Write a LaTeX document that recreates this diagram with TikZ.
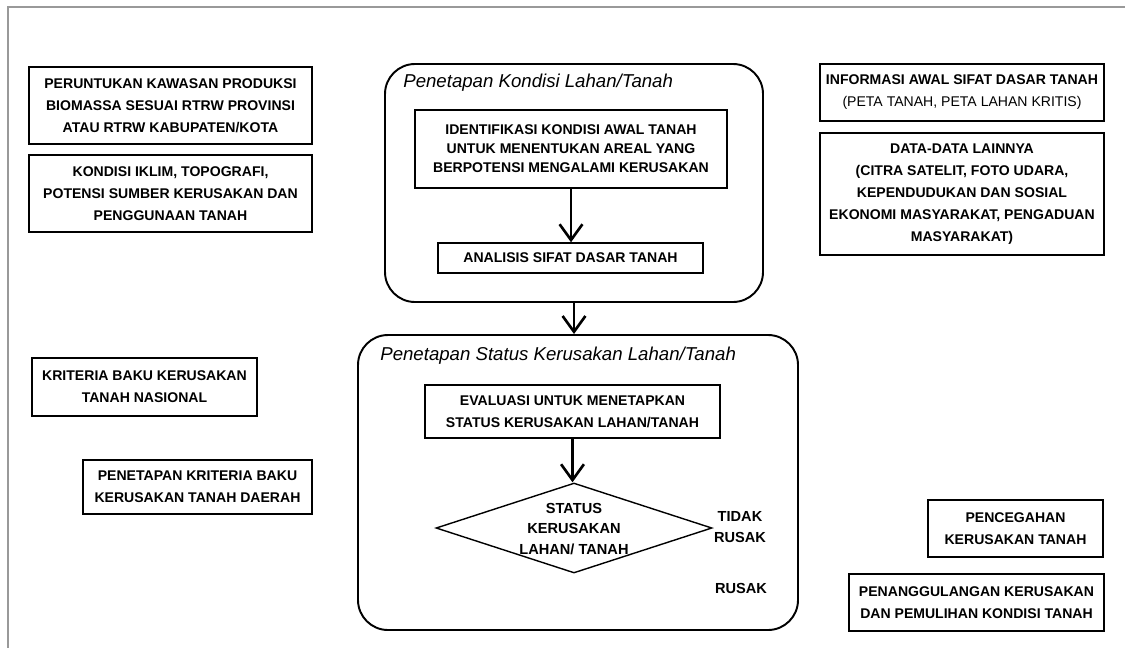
\documentclass[tikz,border=0pt]{standalone}
\usepackage{fontspec}
\setmainfont{Liberation Sans}
\usetikzlibrary{arrows.meta,shapes.geometric}
\newcommand\flowfont{\bfseries\fontsize{8}{12.5}\selectfont}
\newcommand\innerfont{\bfseries\fontsize{8}{10.8}\selectfont}
\newcommand\titlefont{\itshape\fontsize{10.6}{12}\selectfont}
\begin{document}
\begin{tikzpicture}[
        box/.style={draw, line width=0.8pt, inner sep=0pt, align=center, font=\flowfont},
        stage/.style={draw, line width=1.1pt, rounded corners=0.6cm, inner sep=0pt},
        flow/.style={line width=1.3pt, -{Straight Barb[length=9pt,width=13pt,line width=1.5pt]}}
    ]
        \useasboundingbox (0, 0) rectangle (22.5, -12.96);
        \draw[gray!80, line width=1.2pt] (22.5, -0.14) -- (0.16, -0.14) -- (0.16, -12.96);

        \node[box, minimum width=5.66cm, minimum height=1.54cm] (peruntukan) at (3.41, -2.11)
            {PERUNTUKAN KAWASAN PRODUKSI\\BIOMASSA SESUAI RTRW PROVINSI\\ATAU RTRW KABUPATEN/KOTA};
        \node[box, minimum width=5.66cm, minimum height=1.54cm] (iklim) at (3.41, -3.87)
            {KONDISI IKLIM, TOPOGRAFI,\\POTENSI SUMBER KERUSAKAN DAN\\PENGGUNAAN TANAH};
        \node[box, minimum width=4.5cm, minimum height=1.16cm] (nasional) at (2.89, -7.74)
            {KRITERIA BAKU KERUSAKAN\\TANAH NASIONAL};
        \node[box, minimum width=4.58cm, minimum height=1.08cm] (daerah) at (3.95, -9.74)
            {PENETAPAN KRITERIA BAKU\\KERUSAKAN TANAH DAERAH};

        \node[box, minimum width=5.68cm, minimum height=1.14cm] (informasi) at (19.24, -1.85)
            {INFORMASI AWAL SIFAT DASAR TANAH\\\mdseries (PETA TANAH, PETA LAHAN KRITIS)};
        \node[box, minimum width=5.68cm, minimum height=2.44cm] (lainnya) at (19.24, -3.88)
            {DATA-DATA LAINNYA\\(CITRA SATELIT, FOTO UDARA,\\KEPENDUDUKAN DAN SOSIAL\\EKONOMI MASYARAKAT, PENGADUAN\\MASYARAKAT)};
        \node[box, minimum width=3.5cm, minimum height=1.14cm] (pencegahan) at (20.31, -10.57)
            {PENCEGAHAN\\KERUSAKAN TANAH};
        \node[box, minimum width=5.1cm, minimum height=1.14cm] (pemulihan) at (19.53, -12.05)
            {PENANGGULANGAN KERUSAKAN\\DAN PEMULIHAN KONDISI TANAH};

        \node[stage, minimum width=7.56cm, minimum height=4.76cm] (kondisi) at (11.48, -3.66) {};
        \node[anchor=base west, font=\titlefont, inner sep=0pt] (kondisititle) at (8.06, -1.74)
            {Penetapan Kondisi Lahan/Tanah};
        \node[box, font=\innerfont, minimum width=6.24cm, minimum height=1.56cm] (identifikasi) at (11.42, -2.98)
            {IDENTIFIKASI KONDISI AWAL TANAH\\UNTUK MENENTUKAN AREAL YANG\\BERPOTENSI MENGALAMI KERUSAKAN};
        \node[box, minimum width=5.3cm, minimum height=0.6cm] (analisis) at (11.41, -5.16)
            {ANALISIS SIFAT DASAR TANAH};

        \node[stage, minimum width=8.8cm, minimum height=5.9cm] (status) at (11.56, -9.65) {};
        \node[anchor=base west, font=\titlefont, inner sep=0pt] (statustitle) at (7.6, -7.2)
            {Penetapan Status Kerusakan Lahan/Tanah};
        \node[box, minimum width=5.9cm, minimum height=1.06cm] (evaluasi) at (11.45, -8.23)
            {EVALUASI UNTUK MENETAPKAN\\STATUS KERUSAKAN LAHAN/TANAH};
        \node[diamond, draw, line width=0.8pt, inner sep=0pt, minimum width=5.52cm, minimum height=1.8cm] (keputusan) at (11.48, -10.56) {};
        \node[align=center, font=\bfseries\fontsize{8.3}{11.8}\selectfont, inner sep=0pt] (keputusantext) at (11.48, -10.58)
            {STATUS\\KERUSAKAN\\LAHAN/ TANAH};
        \node[align=center, font=\bfseries\fontsize{8.3}{11.8}\selectfont, inner sep=0pt] (tidakrusak) at (14.8, -10.54)
            {TIDAK\\RUSAK};
        \node[font=\bfseries\fontsize{8.3}{11.8}\selectfont, inner sep=0pt] (rusak) at (14.82, -11.76) {RUSAK};

        \draw[flow] (identifikasi.south) -- (identifikasi.south |- analisis.north);
        \draw[flow] (kondisi.south) -- (kondisi.south |- status.north);
        \draw[flow] (evaluasi.south) -- (evaluasi.south |- keputusan.north);
    \end{tikzpicture}
\end{document}
